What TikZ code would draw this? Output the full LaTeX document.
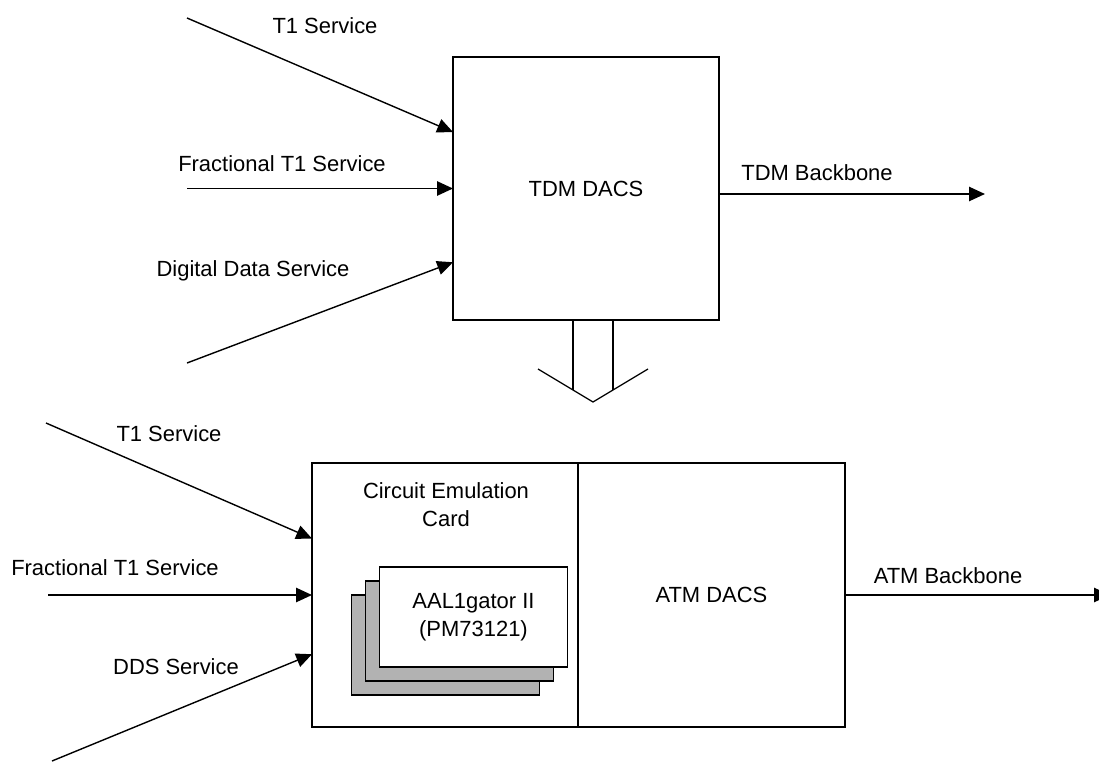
\documentclass[tikz,border=0pt]{standalone}
\usepackage{fontspec}
\setmainfont{Liberation Sans}
\usetikzlibrary{arrows.meta, positioning}
\newcommand{\labelfont}{\fontsize{12.5}{15.9}\selectfont}

\begin{document}
\begin{tikzpicture}[
        x=0.02cm, y=-0.02cm,
        % Cajas principales
        dacsbox/.style={
                rectangle,
                draw=black,
                line width=1.2pt,
                fill=white,
                inner sep=0pt,
                outer sep=0pt,
                font=\labelfont
            },
        % Tarjetas apiladas
        cardbox/.style={
                rectangle,
                draw=black,
                line width=1.1pt,
                minimum width=3.76cm,
                minimum height=2cm,
                fill=black!30,
                align=center,
                font=\labelfont
            },
        % Etiquetas de servicios
        tag/.style={
                font=\labelfont,
                inner sep=0pt,
                anchor=base
            },
        % Flechas
        arrow/.style={
                -{Triangle[length=9pt, width=8pt]},
                line width=0.8pt,
                color=black
            },
        flatarrow/.style={arrow, line width=1.1pt},
        % Flecha hueca
        stem/.style={line width=1pt},
        wing/.style={line width=0.7pt}
    ]

    \useasboundingbox (0,0) rectangle (1099,761);

    % Red TDM
    \node[dacsbox, minimum width=5.32cm, minimum height=5.26cm] (tdm) at (586,188.5) {TDM DACS};

    \coordinate (t1top) at (187,18);
    \coordinate (fractop) at (187,188.5);
    \coordinate (ddstop) at (187,363);
    \coordinate (tdmout) at (985,194);

    \draw[arrow] (t1top) -- (tdm.157.4);
    \draw[flatarrow] (fractop) -- (fractop -| tdm.west);
    \draw[arrow] (ddstop) -- (tdm.209.3);
    \draw[flatarrow] (tdm.east |- tdmout) -- (tdmout);

    \node[tag] (t1toptag) at (325,33) {T1 Service};
    \node[tag] (fractoptag) at (282,171) {Fractional T1 Service};
    \node[tag] (ddstoptag) at (253,276) {Digital Data Service};
    \node[tag] (tdmouttag) at (817,180) {TDM Backbone};

    % Flecha de migracion
    \coordinate (drop) at (593,402);
    \coordinate (stemL) at (573,390);
    \coordinate (stemR) at (613,390);
    \draw[stem] (stemL) -- (stemL |- tdm.south);
    \draw[stem] (stemR) -- (stemR |- tdm.south);
    \draw[wing] (538,369) -- (drop) -- (648,369);

    % Red ATM
    \node[dacsbox, minimum width=5.32cm, minimum height=5.28cm] (cec) at (445,595) {};
    \node[dacsbox, minimum width=5.34cm, minimum height=5.28cm, right=0pt of cec] (atm) {ATM DACS};
    \node[font=\labelfont, align=center] (cectitle) at (446,505) {Circuit Emulation\\Card};

    \node[cardbox] (cardback) at (445.5,645) {};
    \node[cardbox] (cardmid) at (459.5,631) {};
    \node[cardbox, fill=white] (cardfront) at (473.5,617) {AAL1gator II\\(PM73121)};

    \coordinate (t1bot) at (46,423);
    \coordinate (fracbot) at (48,595);
    \coordinate (ddsbot) at (52,761);
    \coordinate (atmout) at (1110,595);

    \draw[arrow] (t1bot) -- (cec.157.5);
    \draw[flatarrow] (fracbot) -- (fracbot -| cec.west);
    \draw[arrow] (ddsbot) -- (cec.204.3);
    \draw[flatarrow] (atm.east |- atmout) -- (atmout);

    \node[tag] (t1bottag) at (169,441) {T1 Service};
    \node[tag] (fracbottag) at (115,575) {Fractional T1 Service};
    \node[tag] (ddsbottag) at (176,674) {DDS Service};
    \node[tag] (atmouttag) at (948,583) {ATM Backbone};

\end{tikzpicture}
\end{document}
